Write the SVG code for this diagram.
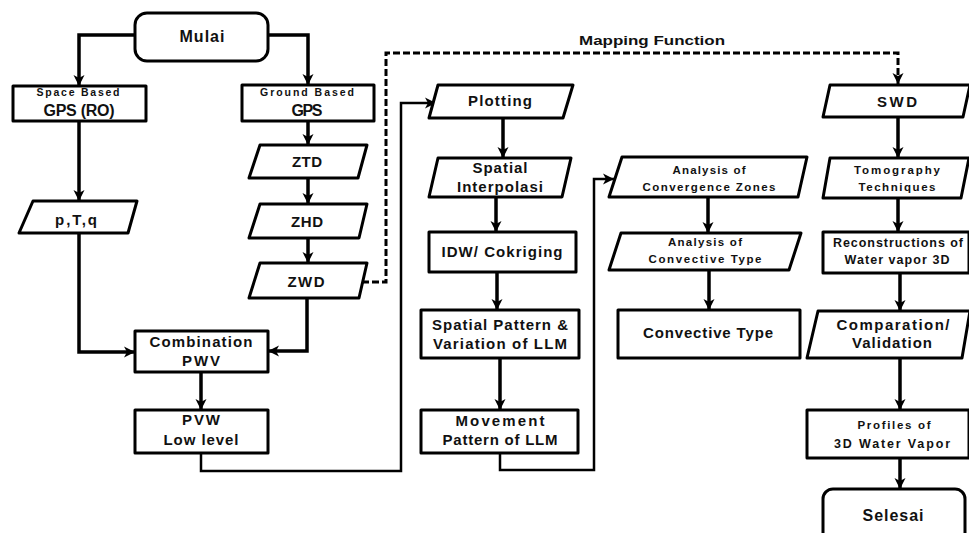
<svg xmlns="http://www.w3.org/2000/svg" width="969" height="533" viewBox="0 0 969 533">
<style>
.bx{fill:#fff;stroke:#000;stroke-width:3;stroke-linejoin:round}
.t{font-family:"Liberation Sans",Arial,sans-serif;font-weight:bold;fill:#111;text-anchor:middle}
.s15{font-size:16px}.s14{font-size:15px}.s12{font-size:12.5px}.s11{font-size:11.5px}.s10{font-size:10.5px}
.c{fill:none;stroke:#000;stroke-width:3.5;stroke-linejoin:miter}
.cl{fill:none;stroke:#000;stroke-width:2.5}
.d{fill:none;stroke:#000;stroke-width:3;stroke-dasharray:7,3}
</style>
<defs>
<marker id="ah" markerUnits="userSpaceOnUse" markerWidth="12" markerHeight="12" viewBox="0 0 12 12" refX="11" refY="6" orient="auto">
<path d="M0,0.5 L11,6 L0,11.5 L3,6 Z" fill="#000"/>
</marker>
</defs>
<rect width="969" height="533" fill="#fff"/>
<g id="connectors">
<path class="c" d="M135,35 H79 V86" marker-end="url(#ah)"/>
<path class="c" d="M268,35 H308 V85" marker-end="url(#ah)"/>
<path class="c" d="M79,121 V201" marker-end="url(#ah)"/>
<path class="c" d="M308,121 V145" marker-end="url(#ah)"/>
<path class="c" d="M308,178 V204" marker-end="url(#ah)"/>
<path class="c" d="M308,238 V263" marker-end="url(#ah)"/>
<path class="c" d="M79,233 V352 H135" marker-end="url(#ah)"/>
<path class="c" d="M307,298 V351 H268" marker-end="url(#ah)"/>
<path class="c" d="M201,372 V410" stroke-width="5" marker-end="url(#ah)"/>
<path class="cl" d="M201,453 V471 H401 V103 H436" marker-end="url(#ah)"/>
<path class="d" d="M362,282 H386 V53 H898 V84" marker-end="url(#ah)"/>
<path class="c" d="M503,118 V158" marker-end="url(#ah)"/>
<path class="c" d="M496,197 V232" marker-end="url(#ah)"/>
<path class="c" d="M497,272 V310" marker-end="url(#ah)"/>
<path class="c" d="M500,358 V410" marker-end="url(#ah)"/>
<path class="cl" d="M500,453 V470 H594 V179 H614" marker-end="url(#ah)"/>
<path class="c" d="M708,197 V233" marker-end="url(#ah)"/>
<path class="c" d="M709,270 V310" marker-end="url(#ah)"/>
<path class="c" d="M898,117 V158" marker-end="url(#ah)"/>
<path class="c" d="M898,198 V232" marker-end="url(#ah)"/>
<path class="c" d="M900,273 V311" marker-end="url(#ah)"/>
<path class="c" d="M900,358 V410" marker-end="url(#ah)"/>
<path class="c" d="M900,458 V489" marker-end="url(#ah)"/>
</g>
<text class="t" style="font-size:13px;font-weight:900" x="652" y="45" textLength="146" lengthAdjust="spacingAndGlyphs">Mapping Function</text>
<g id="mulai">
<rect class="bx" x="135" y="13" width="133" height="48" rx="12"/>
<text class="t s15" x="202" y="42" textLength="45">Mulai</text>
</g>
<g id="space">
<rect class="bx" x="13" y="86" width="133" height="35"/>
<text class="t s10" x="78" y="96" textLength="83">Space Based</text>
<text class="t s15" x="79" y="116" textLength="71">GPS (RO)</text>
</g>
<g id="ground">
<rect class="bx" x="242" y="85" width="132" height="36"/>
<text class="t s10" x="307" y="96" textLength="94">Ground Based</text>
<text class="t s15" x="307" y="116" textLength="31">GPS</text>
</g>
<g id="ztd">
<path class="bx" d="M260,145 H367 L358,178 H249 Z"/>
<text class="t s14" x="307" y="167" textLength="30">ZTD</text>
</g>
<g id="zhd">
<path class="bx" d="M260,204 H367 L359,238 H249 Z"/>
<text class="t s14" x="307" y="227" textLength="32">ZHD</text>
</g>
<g id="zwd">
<path class="bx" d="M260,263 H367 L359,298 H249 Z"/>
<text class="t s14" x="306" y="287" textLength="37">ZWD</text>
</g>
<g id="ptq">
<path class="bx" d="M33,201 H137 L128,233 H19 Z"/>
<text class="t s14" x="76" y="225" textLength="42">p,T,q</text>
</g>
<g id="combination">
<rect class="bx" x="135" y="331" width="133" height="41"/>
<text class="t s14" x="201" y="347" textLength="103">Combination</text>
<text class="t s14" x="201" y="366" textLength="38">PWV</text>
</g>
<g id="pvw">
<rect class="bx" x="135" y="410" width="133" height="43"/>
<text class="t s14" x="201" y="425" textLength="38">PVW</text>
<text class="t s14" x="201" y="445" textLength="75">Low level</text>
</g>
<g id="plotting">
<path class="bx" d="M438,85 H573 L563,118 H429 Z"/>
<text class="t s14" x="500" y="106" textLength="64">Plotting</text>
</g>
<g id="spatial">
<path class="bx" d="M438,158 H571 L562,197 H429 Z"/>
<text class="t s14" x="500" y="173" textLength="55">Spatial</text>
<text class="t s14" x="500" y="192" textLength="86">Interpolasi</text>
</g>
<g id="idw">
<rect class="bx" x="429" y="232" width="147" height="40"/>
<text class="t s14" x="502" y="257" textLength="121">IDW/ Cokriging</text>
</g>
<g id="spatialpattern">
<rect class="bx" x="421" y="310" width="158" height="48"/>
<text class="t s14" x="500" y="330" textLength="136">Spatial Pattern &amp;</text>
<text class="t s14" x="500" y="349" textLength="134">Variation of  LLM</text>
</g>
<g id="movement">
<rect class="bx" x="421" y="410" width="157" height="43"/>
<text class="t s14" x="500" y="426" textLength="89">Movement</text>
<text class="t s14" x="500" y="445" textLength="115">Pattern of LLM</text>
</g>
<g id="convergence">
<path class="bx" d="M622,157 H807 L798,197 H609 Z"/>
<text class="t s11" x="709" y="174" textLength="73">Analysis of</text>
<text class="t s11" x="709" y="191" textLength="133">Convergence Zones</text>
</g>
<g id="convective">
<path class="bx" d="M621,233 H801 L789,270 H609 Z"/>
<text class="t s11" x="705" y="246" textLength="74">Analysis of</text>
<text class="t s11" x="705" y="263" textLength="113">Convective Type</text>
</g>
<g id="convectivetype">
<rect class="bx" x="618" y="310" width="182" height="48"/>
<text class="t s14" x="708" y="338" textLength="130">Convective Type</text>
</g>
<g id="swd">
<path class="bx" d="M830,85 H970 L963,117 H823 Z"/>
<text class="t s14" x="897" y="107" textLength="40">SWD</text>
</g>
<g id="tomography">
<path class="bx" d="M830,158 H969 L961,198 H823 Z"/>
<text class="t s11" x="897" y="174" textLength="86">Tomography</text>
<text class="t s11" x="897" y="191" textLength="77">Techniques</text>
</g>
<g id="reconstructions">
<rect class="bx" x="823" y="232" width="146" height="41"/>
<text class="t s12" x="898" y="247" textLength="130">Reconstructions of</text>
<text class="t s12" x="897" y="264" textLength="105">Water vapor 3D</text>
</g>
<g id="comparation">
<path class="bx" d="M818,311 H970 L962,358 H807 Z"/>
<text class="t s14" x="893" y="330" textLength="113">Comparation/</text>
<text class="t s14" x="892" y="348" textLength="80">Validation</text>
</g>
<g id="profiles">
<rect class="bx" x="807" y="410" width="162" height="48"/>
<text class="t s11" x="894" y="429" textLength="73">Profiles of</text>
<text class="t s12" x="892" y="448" textLength="116">3D  Water Vapor</text>
</g>
<g id="selesai">
<rect class="bx" x="823" y="489" width="142" height="60" rx="10"/>
<text class="t s15" x="893" y="521" textLength="61">Selesai</text>
</g>
</svg>
